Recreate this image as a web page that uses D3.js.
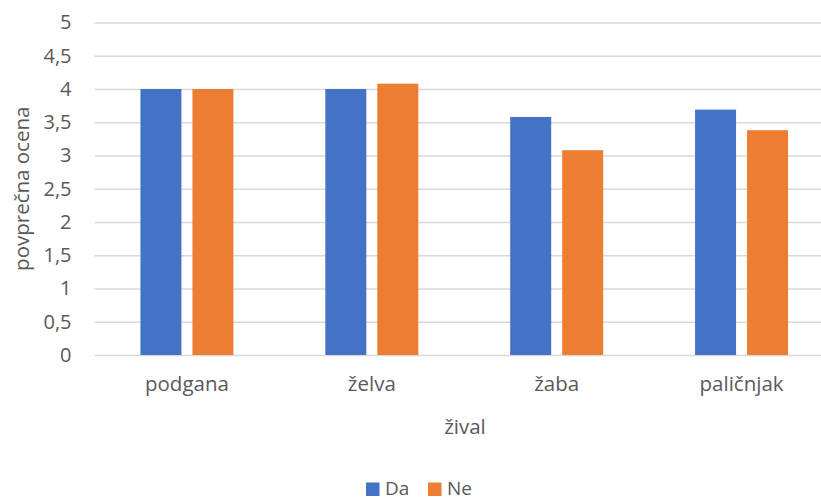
<!DOCTYPE html>
<html><head><meta charset="utf-8">
<script src="https://cdn.jsdelivr.net/npm/d3@7"></script>
<style>body{margin:0;background:#fff;}svg{display:block;}text{font-family:"Open Sans",Lato,sans-serif;fill:#595959;}</style>
</head><body>
<svg id="c" width="821" height="501"></svg>
<script>
const categories = ["podgana", "želva", "žaba", "paličnjak"];
const seriesNames = ["Da", "Ne"];
const daValues = [4.0, 4.0, 3.58, 3.69];
const neValues = [4.0, 4.08, 3.08, 3.38];
const yTicks = [0, 0.5, 1, 1.5, 2, 2.5, 3, 3.5, 4, 4.5, 5];
const colors = ["#4472C4", "#ED7D31"];

const FONT = "'Open Sans', Lato, sans-serif";
const svg = d3.select("#c");
const plotL = 94.5, plotR = 834, plotT = 22.5, plotB = 355;
const y = d3.scaleLinear().domain([0, 5]).range([plotB, plotT]);
const x0 = d3.scaleBand().domain(categories).range([plotL, plotR]).paddingInner(0.497).paddingOuter(0.2485);
const x1 = d3.scaleBand().domain(seriesNames).range([0, x0.bandwidth()]).paddingInner(0.2115).paddingOuter(0);
const fmt = d => String(d).replace(".", ",");

// grid
const grid = svg.append("g").attr("transform", `translate(${plotL},0)`)
  .call(d3.axisLeft(y).tickValues(yTicks).tickSize(-(821 - plotL)).tickFormat(""));
grid.select(".domain").remove();
grid.selectAll("line").attr("stroke", "#d9d9d9").attr("stroke-width", 1.3);

// y labels
const ya = svg.append("g").attr("transform", `translate(${plotL},0)`)
  .call(d3.axisLeft(y).tickValues(yTicks).tickSize(0).tickPadding(23).tickFormat(fmt));
ya.select(".domain").remove();
ya.selectAll("text").attr("font-size", 20).attr("fill", "#595959").attr("font-family", FONT);

// bars
const data = categories.map((c, i) => ({cat: c, vals: [daValues[i], neValues[i]]}));
const g = svg.append("g").selectAll("g").data(data).join("g")
  .attr("transform", d => `translate(${x0(d.cat)},0)`);
g.selectAll("rect").data(d => d.vals.map((v, j) => ({s: seriesNames[j], v, j}))).join("rect")
  .attr("x", d => x1(d.s)).attr("width", x1.bandwidth())
  .attr("y", d => y(d.v)).attr("height", d => y(0) - y(d.v))
  .attr("fill", d => colors[d.j]);

// x labels
const xa = svg.append("g").attr("transform", `translate(0,${plotB})`)
  .call(d3.axisBottom(x0).tickSize(0).tickPadding(21));
xa.select(".domain").remove();
xa.selectAll("text").attr("font-size", 20.5).attr("fill", "#595959").attr("font-family", FONT);

// axis titles
svg.append("text").attr("x", 465).attr("y", 434).attr("text-anchor", "middle").attr("font-size", 20.5).text("žival");
svg.append("text").attr("transform", `translate(29,${(plotT + plotB) / 2}) rotate(-90)`).attr("text-anchor", "middle").attr("font-size", 20.5).text("povprečna ocena");

// legend
const lg = svg.append("g");
const legX = [366, 428];
seriesNames.forEach((s, i) => {
  lg.append("rect").attr("x", legX[i]).attr("y", 482.5).attr("width", 13.5).attr("height", 13.5).attr("fill", colors[i]);
  lg.append("text").attr("x", legX[i] + 19).attr("y", 495).attr("font-size", 19).text(s);
});
</script>
</body></html>
